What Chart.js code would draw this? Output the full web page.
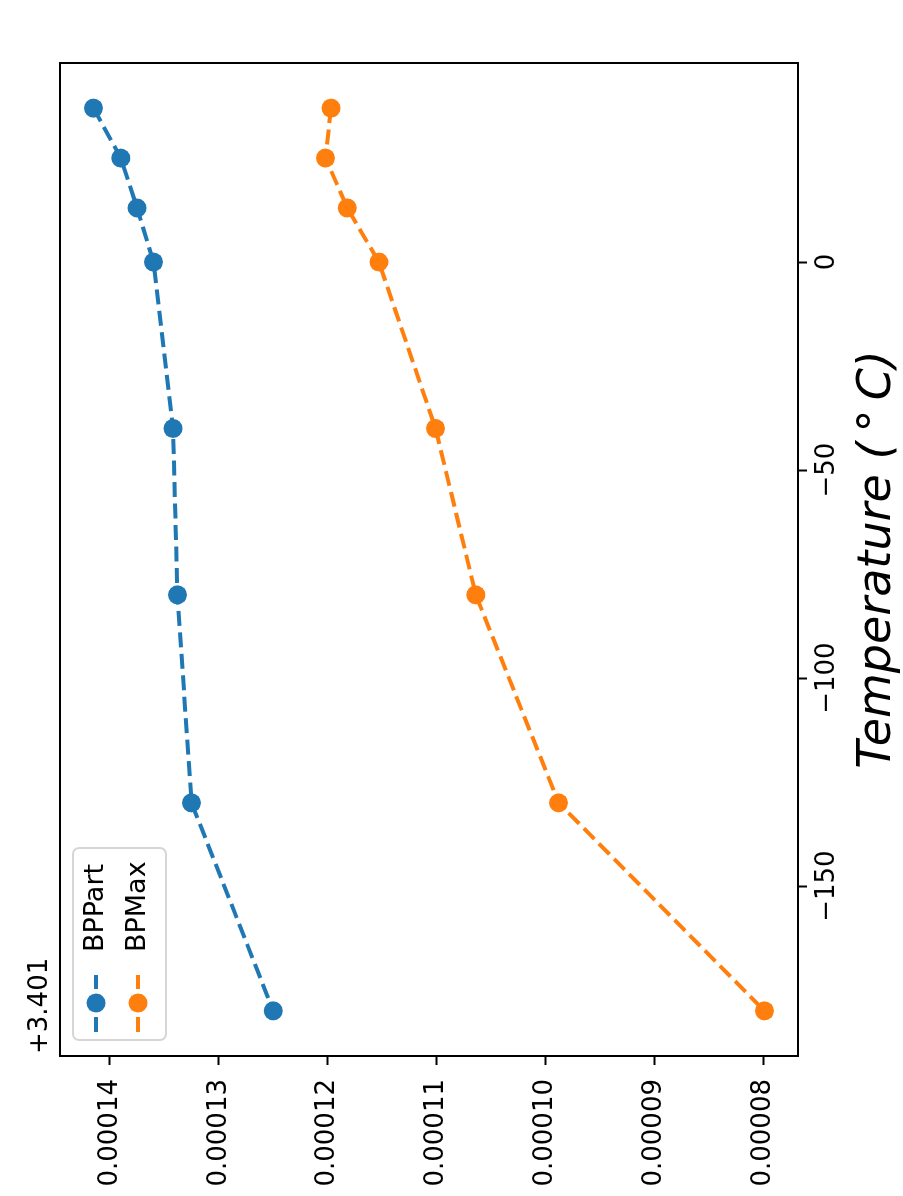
<!DOCTYPE html>
<html>
<head>
<meta charset="utf-8">
<script src="https://cdn.jsdelivr.net/npm/chart.js@4"></script>
<style>
  html, body { margin: 0; padding: 0; background: #fff; overflow: hidden; width: 903px; height: 1196px; }
  /* the figure is drawn landscape and turned a quarter turn, like the reference */
  #wrap {
    position: absolute; left: 0; top: 0;
    width: 1196px; height: 903px;
    transform-origin: 0 0;
    transform: translate(0, 1196px) rotate(-90deg);
  }
</style>
</head>
<body>
<div id="wrap"><canvas id="chart" width="1196" height="903" style="width:1196px;height:903px"></canvas></div>
<script>
const temperatures = [37, 25, 13, 0, -40, -80, -130, -180];
const seriesNames = ['BPPart', 'BPMax'];
const seriesColors = ['#1f77b4', '#ff7f0e'];
const yOffset = 3.401;
// values minus the +3.401 offset
const bpPart = [0.0001415, 0.0001390, 0.0001375, 0.0001360, 0.0001342, 0.0001338, 0.0001325, 0.0001250];
const bpMax  = [0.0001197, 0.0001202, 0.0001182, 0.0001153, 0.0001101, 0.0001064, 0.0000988, 0.0000799];
const xTicks = [-150, -100, -50, 0];
const yTicks = [0.00008, 0.00009, 0.00010, 0.00011, 0.00012, 0.00013, 0.00014];

const FONT = 'DejaVu Sans';

function paddedRange(vals) {
  const lo = Math.min(...vals), hi = Math.max(...vals);
  const pad = (hi - lo) * 0.05;
  return [lo - pad, hi + pad];
}

const [xMin, xMax] = paddedRange(temperatures);
const [yMin, yMax] = paddedRange([...bpPart, ...bpMax].map(v => v + yOffset));

function toPoints(vals) {
  return temperatures.map((t, i) => ({ x: t, y: yOffset + vals[i] }));
}

const datasets = [bpPart, bpMax].map((vals, i) => ({
  label: seriesNames[i],
  data: toPoints(vals),
  showLine: true,
  borderColor: seriesColors[i],
  backgroundColor: seriesColors[i],
  borderWidth: 4,
  borderDash: [15, 6.5],
  pointRadius: 9.5,
  pointHoverRadius: 9.5,
  pointBorderWidth: 0,
  pointBackgroundColor: seriesColors[i],
  tension: 0
}));

const framePlugin = {
  id: 'frame',
  afterDatasetsDraw(chart) {
    const { ctx, chartArea: a } = chart;
    ctx.save();
    ctx.strokeStyle = '#000';
    ctx.lineWidth = 2;
    ctx.strokeRect(a.left, a.top, a.right - a.left, a.bottom - a.top);
    // offset text above the value axis
    ctx.fillStyle = '#000';
    ctx.font = `26px "${FONT}"`;
    ctx.textAlign = 'left';
    ctx.textBaseline = 'alphabetic';
    ctx.fillText('+' + yOffset, a.left + 2, a.top - 13);
    ctx.restore();
  },
  afterDraw(chart) {
    const { ctx, chartArea: a } = chart;
    const bx = a.left + 16, by = a.top + 13, bw = 192, bh = 93, r = 6;
    ctx.save();
    ctx.beginPath();
    ctx.moveTo(bx + r, by);
    ctx.arcTo(bx + bw, by, bx + bw, by + bh, r);
    ctx.arcTo(bx + bw, by + bh, bx, by + bh, r);
    ctx.arcTo(bx, by + bh, bx, by, r);
    ctx.arcTo(bx, by, bx + bw, by, r);
    ctx.closePath();
    ctx.fillStyle = 'rgba(255,255,255,0.8)';
    ctx.fill();
    ctx.strokeStyle = '#d6d6d6';
    ctx.lineWidth = 2;
    ctx.stroke();

    chart.data.datasets.forEach((ds, i) => {
      const cy = by + 23 + i * 42;
      ctx.strokeStyle = ds.borderColor;
      ctx.lineWidth = 4;
      ctx.setLineDash([15, 6.5]);
      ctx.beginPath();
      ctx.moveTo(bx + 8, cy);
      ctx.lineTo(bx + 65, cy);
      ctx.stroke();
      ctx.setLineDash([]);
      ctx.fillStyle = ds.borderColor;
      ctx.beginPath();
      ctx.arc(bx + 37, cy, 9.5, 0, Math.PI * 2);
      ctx.fill();
      ctx.fillStyle = '#000';
      ctx.font = `27px "${FONT}"`;
      ctx.textAlign = 'left';
      ctx.textBaseline = 'middle';
      ctx.fillText(ds.label, bx + 88, cy);
    });
    ctx.restore();
  }
};

const tickGrid = {
  display: true,
  drawOnChartArea: false,
  drawTicks: true,
  tickLength: 9,
  tickWidth: 2,
  tickColor: '#000'
};

new Chart(document.getElementById('chart'), {
  type: 'scatter',
  data: { datasets },
  plugins: [framePlugin],
  options: {
    responsive: false,
    animation: false,
    devicePixelRatio: 1,
    layout: { padding: { top: 60, right: 63, left: 0, bottom: 0 } },
    plugins: {
      legend: { display: false },
      tooltip: { enabled: false }
    },
    scales: {
      x: {
        type: 'linear',
        min: xMin,
        max: xMax,
        afterBuildTicks: axis => { axis.ticks = xTicks.map(v => ({ value: v })); },
        afterFit: axis => { axis.height = 105; },
        grid: tickGrid,
        border: { display: false },
        ticks: {
          color: '#000',
          font: { family: FONT, size: 26 },
          padding: 5,
          maxRotation: 0,
          autoSkip: false,
          callback: v => (v < 0 ? '\u2212' + Math.abs(v) : String(v))
        },
        title: {
          display: true,
          text: 'Temperature (\u2009°\u2009C)',
          color: '#000',
          font: { family: FONT, size: 46, style: 'italic', lineHeight: 1.1 },
          padding: { top: 0, bottom: 0 }
        }
      },
      y: {
        type: 'linear',
        min: yMin,
        max: yMax,
        afterBuildTicks: axis => { axis.ticks = yTicks.map(v => ({ value: yOffset + v })); },
        afterFit: axis => { axis.width = 140; },
        grid: tickGrid,
        border: { display: false },
        ticks: {
          color: '#000',
          font: { family: FONT, size: 26 },
          padding: 14,
          callback: v => (v - yOffset).toFixed(5)
        }
      }
    }
  }
});
</script>
</body>
</html>
